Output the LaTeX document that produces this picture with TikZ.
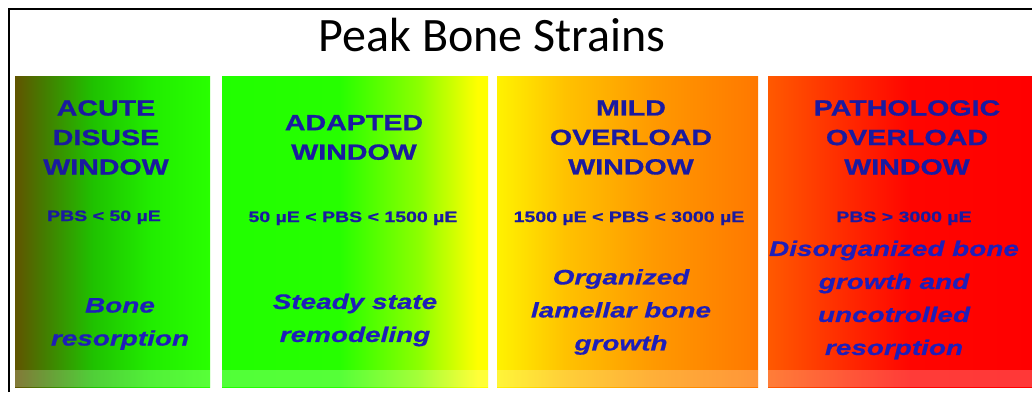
\documentclass[tikz,border=0pt]{standalone}
\usepackage{fontspec}
\usepackage{xcolor}
\usepackage{tikz}
\newfontfamily\titlefont{Carlito}
\newfontfamily\headfont[FakeStretch=1.3, FakeBold=0.8]{Liberation Sans Bold}
\newfontfamily\bodyfont[FakeStretch=1.33, FakeBold=0.6]{Liberation Sans Bold Italic}

\definecolor{headblue}{RGB}{26,26,160}
\definecolor{bodyblue}{RGB}{30,30,185}

% window gradients (middle 50bp is mapped onto the panel)
\pgfdeclarehorizontalshading{disuseshade}{100bp}{rgb(0bp)=(0.38,0.33,0); rgb(25bp)=(0.38,0.33,0); rgb(33bp)=(0.26,0.5,0); rgb(45bp)=(0.12,0.76,0); rgb(60bp)=(0.13,0.93,0); rgb(75bp)=(0.16,1,0); rgb(100bp)=(0.16,1,0)}
\pgfdeclarehorizontalshading{adaptedshade}{100bp}{rgb(0bp)=(0.13,1,0); rgb(25bp)=(0.13,1,0); rgb(47bp)=(0.15,1,0); rgb(62bp)=(0.55,1,0); rgb(73bp)=(1,1,0); rgb(75bp)=(1,1,0); rgb(100bp)=(1,1,0)}
\pgfdeclarehorizontalshading{mildshade}{100bp}{rgb(0bp)=(1,0.95,0); rgb(25bp)=(1,0.95,0); rgb(38bp)=(1,0.76,0); rgb(55bp)=(1,0.6,0); rgb(75bp)=(1,0.47,0); rgb(100bp)=(1,0.47,0)}
\pgfdeclarehorizontalshading{pathoshade}{100bp}{rgb(0bp)=(1,0.35,0); rgb(25bp)=(1,0.35,0); rgb(40bp)=(1,0.16,0); rgb(52bp)=(1,0.02,0); rgb(75bp)=(1,0,0); rgb(100bp)=(1,0,0)}

\begin{document}
\begin{tikzpicture}[
    x=1pt, y=-1pt,
    panel/.style={minimum width=#1, minimum height=311pt, inner sep=0pt, outer sep=0pt,
      path picture={\fill[white, opacity=0.22] ([yshift=17pt]path picture bounding box.south west) rectangle (path picture bounding box.south east);}},
    head/.style={font=\headfont\fontsize{22}{29.5}\selectfont, text=headblue, align=center, inner sep=0pt},
    pbs/.style={font=\headfont\fontsize{15}{18}\selectfont, text=headblue, anchor=base, inner sep=0pt},
    body/.style={font=\bodyfont\fontsize{21}{33}\selectfont, text=bodyblue, align=center, inner sep=0pt},
]
    \useasboundingbox (0,0) rectangle (1032,392);

    % Frame
    \draw[line width=2.5pt] (9,392) |- (1032,9);

    % Title
    \node[font=\titlefont\fontsize{48}{52}\selectfont, anchor=base] (title) at (492,51) {Peak Bone Strains};

    % Windows
    \node[panel=195pt, shading=disuseshade] (disuse) at (112.5,231.5) {};
    \node[panel=266pt, shading=adaptedshade] (adapted) at (355,231.5) {};
    \node[panel=261pt, shading=mildshade] (mild) at (627.5,231.5) {};
    \node[panel=264pt, shading=pathoshade] (patho) at (900,231.5) {};

    % Window headings
    \node[head] (disuse-h) at (106,137.5) {ACUTE\\DISUSE\\WINDOW};
    \node[head] (adapted-h) at (354,137.5) {ADAPTED\\WINDOW};
    \node[head] (mild-h) at (631,137.5) {MILD\\OVERLOAD\\WINDOW};
    \node[head] (patho-h) at (907,137.5) {PATHOLOGIC\\OVERLOAD\\WINDOW};

    % Strain ranges
    \node[pbs] (disuse-r) at (104,221) {PBS < 50 µE};
    \node[pbs] (adapted-r) at (353,222) {50 µE < PBS < 1500 µE};
    \node[pbs] (mild-r) at (629,222) {1500 µE < PBS < 3000 µE};
    \node[pbs] (patho-r) at (904,222) {PBS > 3000 µE};

    % Responses
    \node[body] (disuse-b) at (120,324) {Bone\\resorption};
    \node[body] (adapted-b) at (355,320) {Steady state\\remodeling};
    \node[body] (mild-b) at (621,312) {Organized\\lamellar bone\\growth};
    \node[body] (patho-b) at (894,300) {Disorganized bone\\growth and\\uncotrolled\\resorption};

\end{tikzpicture}
\end{document}
